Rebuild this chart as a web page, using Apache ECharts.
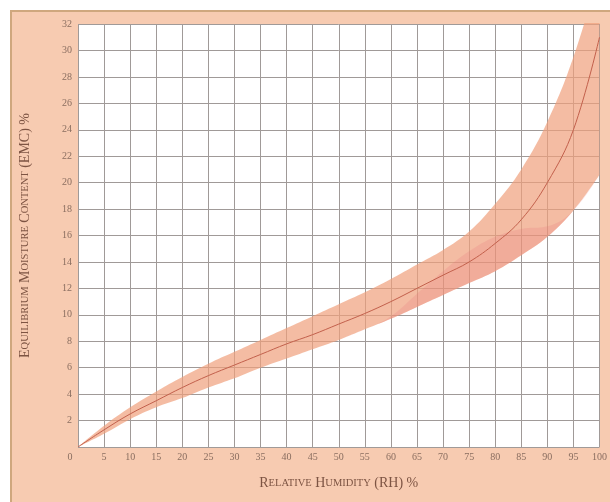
<!DOCTYPE html>
<html>
<head>
<meta charset="utf-8">
<script src="https://cdn.jsdelivr.net/npm/echarts@6/dist/echarts.min.js"></script>
<style>
  html, body { margin: 0; padding: 0; background: #ffffff; }
  #wrap { position: relative; width: 610px; height: 502px; overflow: hidden; }
  #frame { position: absolute; left: 10px; top: 10px; width: 610px; height: 500px;
           background: #f7cbb1; border-top: 2px solid #cfa77e; border-left: 2px solid #cfa77e; box-sizing: border-box; }
  #chart { position: absolute; left: 0; top: 0; width: 610px; height: 502px; }
</style>
</head>
<body>
<div id="wrap"><div id="frame"></div><div id="chart"></div></div>
<script>
// Relative humidity (%) sample points / x tick labels
const rh = [0, 5, 10, 15, 20, 25, 30, 35, 40, 45, 50, 55, 60, 65, 70, 75, 80, 85, 90, 95, 100];
// Centre curve of EMC (%)
const emcCentre = [0, 1.3, 2.5, 3.5, 4.5, 5.4, 6.2, 7.0, 7.8, 8.5, 9.3, 10.1, 11.0, 12.0, 13.0, 14.0, 15.4, 17.2, 20.0, 24.0, 31.0];
// Upper edge of the EMC band
const emcUpper = [0, 1.6, 3.0, 4.2, 5.3, 6.3, 7.2, 8.1, 9.0, 9.9, 10.8, 11.7, 12.7, 13.8, 14.9, 16.3, 18.4, 21.0, 24.6, 29.5, 36.0];
// Lower edge of the EMC band
const emcLower = [0, 1.0, 2.1, 3.0, 3.7, 4.5, 5.2, 6.0, 6.7, 7.4, 8.1, 8.9, 9.7, 10.6, 11.5, 12.4, 13.3, 14.5, 15.9, 17.9, 20.6];
// Thickness of the darker core zone above the lower edge
const coreThickness = [0, 0, 0, 0, 0, 0, 0, 0, 0, 0, 0, 0, 0.2, 1.0, 1.8, 2.4, 2.6, 2.0, 0.8, 0, 0];
// y tick settings
const yTicks = { min: 0, max: 32, step: 2 };
const xTitle = 'Relative Humidity (RH) %';
const yTitle = 'Equilibrium Moisture Content (EMC) %';

function smallCaps(str) {
  let out = '', cur = null, buf = '';
  const flush = () => { if (buf) out += '{' + cur + '|' + buf + '}'; buf = ''; };
  for (const ch of str) {
    const isLower = ch !== ch.toUpperCase();
    const st = isLower ? 's' : 'b';
    if (st !== cur) { flush(); cur = st; }
    buf += ch.toUpperCase();
  }
  flush();
  return out;
}

const serif = '"Liberation Serif", "DejaVu Serif", serif';
const titleRich = {
  b: { fontFamily: serif, fontSize: 14, color: '#7d5443' },
  s: { fontFamily: serif, fontSize: 10.5, color: '#7d5443' }
};
const tickColor = '#8a6e60';

const chart = echarts.init(document.getElementById('chart'), null, { renderer: 'canvas' });
chart.setOption({
  backgroundColor: 'transparent',
  animation: false,
  grid: { left: 78, right: 10, top: 24, bottom: 55, show: true, backgroundColor: '#ffffff', borderWidth: 0 },
  xAxis: {
    type: 'category', data: rh.map(String), boundaryGap: false,
    name: smallCaps(xTitle), nameLocation: 'middle', nameGap: 29,
    nameTextStyle: { rich: titleRich },
    axisLine: { show: false }, axisTick: { show: false },
    axisLabel: {
      interval: 0, margin: 5, color: tickColor, fontFamily: serif, fontSize: 10,
      formatter: v => v === '0' ? '{z|0}' : v,
      rich: { z: { padding: [0, 16, 0, 0], color: tickColor, fontFamily: serif, fontSize: 10 } }
    },
    splitLine: { show: true, interval: 0, lineStyle: { color: '#a09a98', width: 1 } }
  },
  yAxis: {
    type: 'value', min: yTicks.min, max: yTicks.max, interval: yTicks.step,
    name: smallCaps(yTitle), nameLocation: 'middle', nameGap: 46, nameRotate: 90,
    nameTextStyle: { rich: titleRich },
    axisLine: { show: false }, axisTick: { show: false },
    axisLabel: {
      margin: 6, color: tickColor, fontFamily: serif, fontSize: 10,
      formatter: v => v === 0 ? '' : String(v)
    },
    splitLine: { show: true, lineStyle: { color: '#a09a98', width: 1 } }
  },
  series: [
    {
      type: 'line', stack: 'band', data: emcLower, smooth: 0.4,
      symbol: 'none', lineStyle: { opacity: 0 }, silent: true
    },
    {
      type: 'line', stack: 'band', data: emcUpper.map((u, i) => +(u - emcLower[i]).toFixed(2)), smooth: 0.4,
      symbol: 'none', lineStyle: { opacity: 0 },
      areaStyle: { color: '#ef9f7c', opacity: 0.7 }, silent: true
    },
    {
      type: 'line', stack: 'core', data: emcLower, smooth: 0.4,
      symbol: 'none', lineStyle: { opacity: 0 }, silent: true
    },
    {
      type: 'line', stack: 'core', data: coreThickness, smooth: 0.4,
      symbol: 'none', lineStyle: { opacity: 0 },
      areaStyle: { color: '#e8707a', opacity: 0.2 }, silent: true
    },
    {
      type: 'line', data: emcCentre, smooth: 0.4, symbol: 'none',
      lineStyle: { color: '#c2604c', width: 1 }
    }
  ]
});
</script>
</body>
</html>
